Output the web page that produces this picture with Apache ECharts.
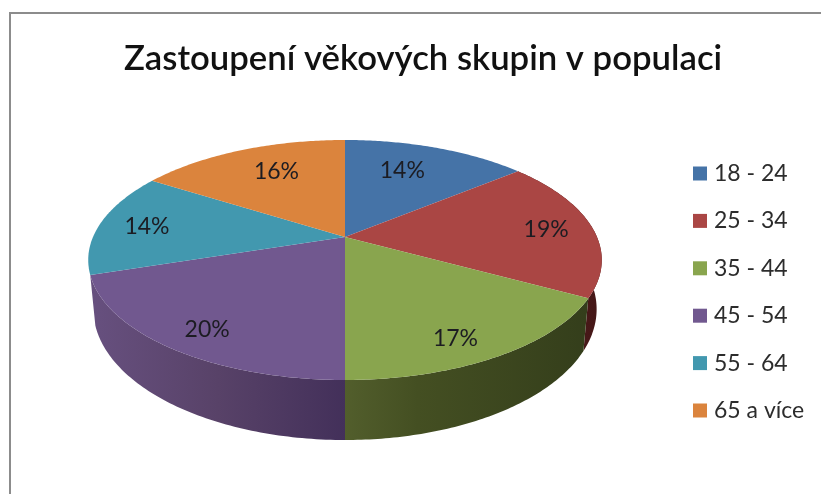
<!DOCTYPE html>
<html><head><meta charset="utf-8">
<script src="https://cdn.jsdelivr.net/npm/echarts@6/dist/echarts.min.js"></script>
<style>html,body{margin:0;padding:0;background:#fff}#c{width:821px;height:494px}</style>
</head><body><div id="c"></div>
<script>
const titleText = 'Zastoupení věkových skupin v populaci';
const categories = ['18 - 24', '25 - 34', '35 - 44', '45 - 54', '55 - 64', '65 a více'];
const shares = [14, 19, 17, 20, 14, 16];

const colors = ['#4573a7', '#aa4644', '#89a54e', '#71588f', '#4298af', '#db843d'];
const frontSlices = [1, 2, 3];
const wallStops = {
  1: [[0, '#4f1c1c'], [1, '#451717']],
  2: [[0, '#525e2c'], [0.3, '#444f22'], [1, '#343e1b']],
  3: [[0, '#67507f'], [0.5, '#584268'], [1, '#43305a']]
};
const labelRadius = [0.69, 0.81, 0.843, 0.843, 0.804, 0.70];
const labelTurnDeg = [-3.5, 1, 4.2, -1.8, -0.9, 3];

const FONT = 'Lato';
const pie = { cx: 345, cy: 237, a: 252, b: 115.6, k: -0.1917 };
const total = shares.reduce((s, v) => s + v, 0);
const starts = shares.map((_, i) => shares.slice(0, i).reduce((s, v) => s + v, 0));

function project(angle, rho) {
  const u = Math.sin(angle) * rho, v = -Math.cos(angle) * rho;
  const d = 1 + pie.k * v;
  return [pie.cx + pie.a * u / d, pie.cy + pie.b * v / d];
}
function lower(p) {
  const drop = 60 - (380 - p[1]) * 0.09;
  return [pie.cx + (p[0] - pie.cx) * 0.98, p[1] + drop];
}
function rim(i) {
  const pts = [], n = 80;
  const a0 = starts[i] / total * 2 * Math.PI, a1 = (starts[i] + shares[i]) / total * 2 * Math.PI;
  for (let j = 0; j <= n; j++) pts.push(project(a0 + (a1 - a0) * j / n, 1));
  return pts;
}
const topSeries = categories.map((name, i) => ({
  type: 'custom', name, coordinateSystem: 'none', z: 5, silent: true, animation: false,
  itemStyle: { color: colors[i] },
  data: [shares[i]],
  renderItem() {
    const r = rim(i);
    const mid = (starts[i] + shares[i] / 2) / total * 2 * Math.PI + labelTurnDeg[i] * Math.PI / 180;
    const lp = project(mid, labelRadius[i]);
    return { type: 'group', children: [
      { type: 'polygon', shape: { points: [[pie.cx, pie.cy]].concat(r) }, style: { fill: colors[i] } },
      { type: 'text', z2: 10, style: { x: lp[0], y: lp[1], text: shares[i] + '%', align: 'center', verticalAlign: 'middle',
        fill: '#1c1c22', font: '400 23px ' + FONT } }
    ]};
  }
}));
const wallSeries = frontSlices.map(i => ({
  type: 'custom', name: 'stěna ' + categories[i], coordinateSystem: 'none', z: 2, silent: true, animation: false,
  data: [shares[i]],
  renderItem() {
    const r = rim(i);
    const low = r.map(lower).reverse();
    return { type: 'polygon', shape: { points: r.concat(low) },
      style: { fill: new echarts.graphic.LinearGradient(0, 0, 1, 0, wallStops[i].map(s => ({ offset: s[0], color: s[1] }))) } };
  }
}));

const chart = echarts.init(document.getElementById('c'), null, { renderer: 'canvas' });
chart.setOption({
  animation: false,
  backgroundColor: '#fff',
  title: { text: titleText, left: 119, top: 36,
    textStyle: { fontFamily: FONT, fontSize: 34.7, fontWeight: 600, color: '#111' } },
  legend: { data: categories, orient: 'vertical', left: 688, top: 157, itemWidth: 14, itemHeight: 14, itemGap: 24.4, icon: 'rect',
    selectedMode: false,
    textStyle: { fontFamily: FONT, fontSize: 23, color: '#2c2c2c', padding: [0, 0, 0, 2] } },
  graphic: [{ type: 'rect', silent: true, shape: { x: 10, y: 13, width: 1000, height: 700 },
    style: { fill: 'none', stroke: '#8c8c8c', lineWidth: 2 } }],
  series: topSeries.concat(wallSeries)
});
</script></body></html>
